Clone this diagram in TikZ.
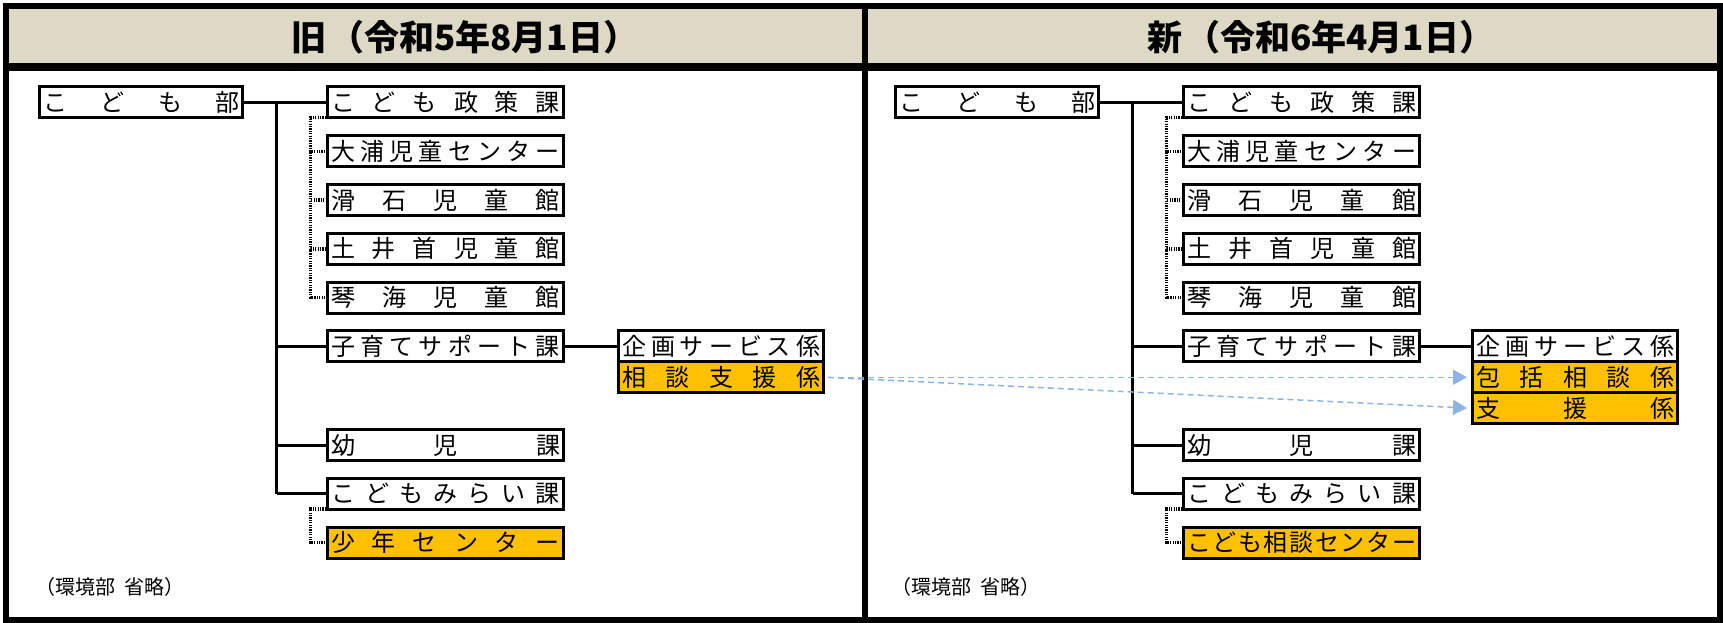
\documentclass[tikz,border=0pt]{standalone}
\usepackage{fontspec}
\newfontfamily\jp{Noto Sans CJK JP}
\usetikzlibrary{arrows.meta}
\definecolor{hdrbg}{HTML}{DDD9C4}
\definecolor{orgc}{HTML}{FFC000}
\definecolor{arrblue}{HTML}{8DB4E2}
\newcommand\spreadtxt[2]{\makebox[#1][s]{#2}}
\begin{document}
\begin{tikzpicture}[x=1pt,y=-1pt,
  bx/.style={draw=black, line width=3pt, fill=white, minimum height=31pt, inner sep=0pt, anchor=north west, font=\jp\fontsize{24pt}{28pt}\selectfont},
  hl/.style={fill=orgc},
  wbu/.style={minimum width=203pt},
  wka/.style={minimum width=236pt},
  wkk/.style={minimum width=205pt},
  conn/.style={draw=black, line width=3pt},
  dots/.style={draw=black, line width=3.5pt, dash pattern=on 1.2pt off 1.2pt},
  hdr/.style={anchor=west, inner sep=0pt, font=\jp\bfseries\fontsize{35pt}{40pt}\selectfont},
  note/.style={anchor=west, inner sep=0pt, font=\jp\fontsize{20pt}{23pt}\selectfont},
  arr/.style={draw=arrblue, line width=1.5pt, dash pattern=on 6pt off 4pt, -{Triangle[length=14pt,width=15pt,fill=arrblue]}, shorten >=4pt, shorten <=3pt}
]
\useasboundingbox (0,0) rectangle (1723,623);
% frame
\fill[hdrbg] (5.8,5.8) rectangle (1720,67);
\draw[line width=8pt] (3,67) -- (1720,67);
\draw[line width=5.5pt] (5.8,5.8) rectangle (1720,620);
\draw[line width=6.5pt] (865,5.8) -- (865,620);
\node[hdr] (hL) at (291,37) {旧\hspace{3pt}（令和5年8月1日）};
\node[hdr] (hR) at (1147,37) {新\hspace{3pt}（令和6年4月1日）};

% ---------- left panel ----------
\node[bx,wbu] (Lbu) at (38.4,85.5) {\spreadtxt{196pt}{こ\hfill ど\hfill も\hfill 部}};
\node[bx,wka] (Lseisaku) at (326,85.5) {\spreadtxt{229pt}{こ\hfill ど\hfill も\hfill 政\hfill 策\hfill 課}};
\node[bx,wka] (Loura) at (326,134.25) {\spreadtxt{229pt}{大\hfill 浦\hfill 児\hfill 童\hfill セ\hfill ン\hfill タ\hfill ー}};
\node[bx,wka] (Lname) at (326,183) {\spreadtxt{229pt}{滑\hfill 石\hfill 児\hfill 童\hfill 館}};
\node[bx,wka] (Ldoi) at (326,231.75) {\spreadtxt{229pt}{土\hfill 井\hfill 首\hfill 児\hfill 童\hfill 館}};
\node[bx,wka] (Lkoto) at (326,280.5) {\spreadtxt{229pt}{琴\hfill 海\hfill 児\hfill 童\hfill 館}};
\node[bx,wka] (Lkoso) at (326,329.25) {\spreadtxt{229pt}{子\hfill 育\hfill て\hfill サ\hfill ポ\hfill ー\hfill ト\hfill 課}};
\node[bx,wka] (Lyouji) at (326,428) {\spreadtxt{229pt}{幼\hfill 児\hfill 課}};
\node[bx,wka] (Lmirai) at (326,476.75) {\spreadtxt{229pt}{こ\hfill ど\hfill も\hfill み\hfill ら\hfill い\hfill 課}};
\node[bx,wka,hl] (Lshonen) at (326,525.5) {\spreadtxt{229pt}{少\hfill 年\hfill セ\hfill ン\hfill タ\hfill ー}};
\node[bx,wkk] (Lkikaku) at (617,329.25) {\spreadtxt{198pt}{企\hfill 画\hfill サ\hfill ー\hfill ビ\hfill ス\hfill 係}};
\node[bx,wkk,hl] (Lsoudan) at (617,360.25) {\spreadtxt{198pt}{相\hfill 談\hfill 支\hfill 援\hfill 係}};
\node[note] (Lnote) at (35,587) {（環境部\hspace{9pt}省略）};

\coordinate (Ltr) at (276.6,0);
\draw[conn] (Lbu.east) -- (Lseisaku.west);
\draw[conn] (Ltr |- Lbu.east) -- (Ltr |- Lmirai.west);
\draw[conn] (Ltr |- Lkoso.west) -- (Lkoso.west);
\draw[conn] (Ltr |- Lyouji.west) -- (Lyouji.west);
\draw[conn] (Ltr |- Lmirai.west) -- (Lmirai.west);
\draw[conn] (Lkoso.east) -- (Lkikaku.west);
\foreach \n in {Loura,Lname,Ldoi,Lkoto}
  \draw[dots] ([yshift=2pt]Lseisaku.south west) -- ++(-15.4,0) |- (\n.west);
\draw[dots] ([yshift=2pt]Lmirai.south west) -- ++(-15.4,0) |- (Lshonen.west);

% ---------- right panel ----------
\node[bx,wbu] (Rbu) at (894.4,85.5) {\spreadtxt{196pt}{こ\hfill ど\hfill も\hfill 部}};
\node[bx,wka] (Rseisaku) at (1182,85.5) {\spreadtxt{229pt}{こ\hfill ど\hfill も\hfill 政\hfill 策\hfill 課}};
\node[bx,wka] (Roura) at (1182,134.25) {\spreadtxt{229pt}{大\hfill 浦\hfill 児\hfill 童\hfill セ\hfill ン\hfill タ\hfill ー}};
\node[bx,wka] (Rname) at (1182,183) {\spreadtxt{229pt}{滑\hfill 石\hfill 児\hfill 童\hfill 館}};
\node[bx,wka] (Rdoi) at (1182,231.75) {\spreadtxt{229pt}{土\hfill 井\hfill 首\hfill 児\hfill 童\hfill 館}};
\node[bx,wka] (Rkoto) at (1182,280.5) {\spreadtxt{229pt}{琴\hfill 海\hfill 児\hfill 童\hfill 館}};
\node[bx,wka] (Rkoso) at (1182,329.25) {\spreadtxt{229pt}{子\hfill 育\hfill て\hfill サ\hfill ポ\hfill ー\hfill ト\hfill 課}};
\node[bx,wka] (Ryouji) at (1182,428) {\spreadtxt{229pt}{幼\hfill 児\hfill 課}};
\node[bx,wka] (Rmirai) at (1182,476.75) {\spreadtxt{229pt}{こ\hfill ど\hfill も\hfill み\hfill ら\hfill い\hfill 課}};
\node[bx,wka,hl] (Rsoudanc) at (1182,525.5) {\spreadtxt{229pt}{こ\hfill ど\hfill も\hfill 相\hfill 談\hfill セ\hfill ン\hfill タ\hfill ー}};
\node[bx,wkk] (Rkikaku) at (1471,329.25) {\spreadtxt{198pt}{企\hfill 画\hfill サ\hfill ー\hfill ビ\hfill ス\hfill 係}};
\node[bx,wkk,hl] (Rhoukatsu) at (1471,360.25) {\spreadtxt{198pt}{包\hfill 括\hfill 相\hfill 談\hfill 係}};
\node[bx,wkk,hl] (Rshien) at (1471,391.25) {\spreadtxt{198pt}{支\hfill 援\hfill 係}};
\node[note] (Rnote) at (891,587) {（環境部\hspace{9pt}省略）};

\coordinate (Rtr) at (1132.6,0);
\draw[conn] (Rbu.east) -- (Rseisaku.west);
\draw[conn] (Rtr |- Rbu.east) -- (Rtr |- Rmirai.west);
\draw[conn] (Rtr |- Rkoso.west) -- (Rkoso.west);
\draw[conn] (Rtr |- Ryouji.west) -- (Ryouji.west);
\draw[conn] (Rtr |- Rmirai.west) -- (Rmirai.west);
\draw[conn] (Rkoso.east) -- (Rkikaku.west);
\foreach \n in {Roura,Rname,Rdoi,Rkoto}
  \draw[dots] ([yshift=2pt]Rseisaku.south west) -- ++(-15.4,0) |- (\n.west);
\draw[dots] ([yshift=2pt]Rmirai.south west) -- ++(-15.4,0) |- (Rsoudanc.west);

% ---------- transfer arrows ----------
\draw[arr] (Lsoudan.east) -- (Rhoukatsu.west);
\draw[arr] (Lsoudan.east) -- (Rshien.west);
\end{tikzpicture}
\end{document}
